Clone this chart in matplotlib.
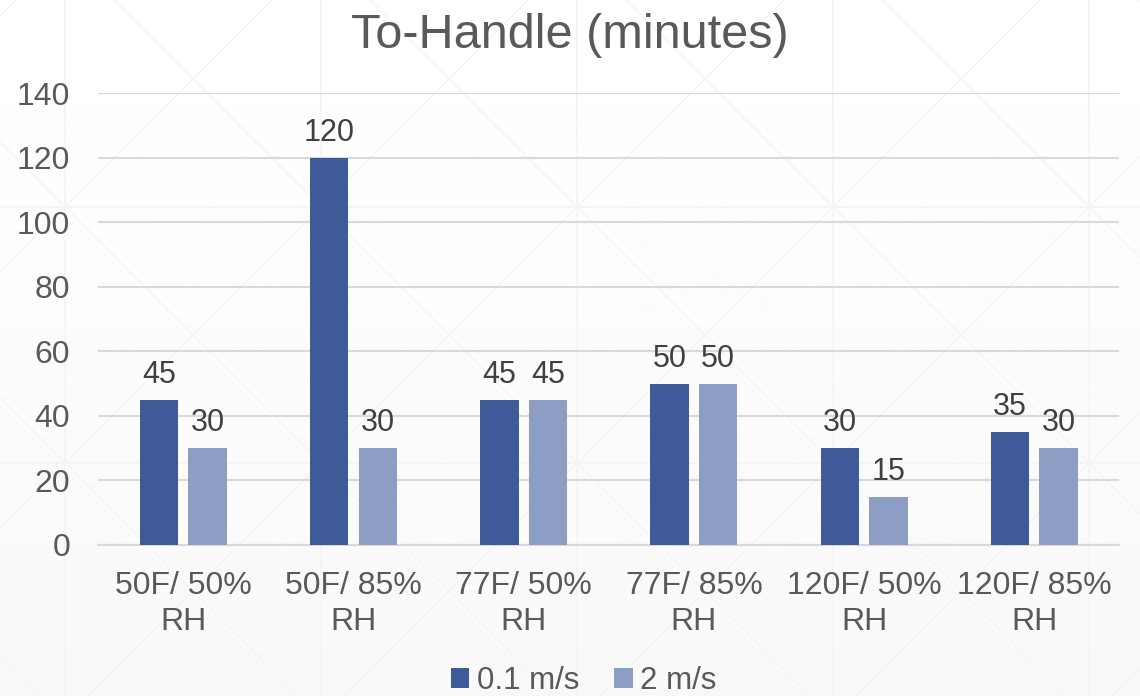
import numpy as np
import matplotlib.pyplot as plt

categories = ['50F/ 50%\nRH', '50F/ 85%\nRH', '77F/ 50%\nRH', '77F/ 85%\nRH', '120F/ 50%\nRH', '120F/ 85%\nRH']
slow_air = [45, 120, 45, 50, 30, 35]
fast_air = [30, 30, 45, 50, 15, 30]
series_names = ['0.1 m/s', '2 m/s']

dark_blue = '#3F5A98'
light_blue = '#8E9DC4'
text_grey = '#595959'
grid_grey = '#D9D9D9'
pattern_grey = '#F4F4F4'

plt.rcParams['font.family'] = ['Liberation Sans', 'DejaVu Sans']

fig = plt.figure(figsize=(11.4, 6.96), dpi=100)

# faint slide backdrop: square tiles with crossing diagonals, slight grey towards the bottom
bg = fig.add_axes([0, 0, 1, 1], zorder=-10)
bg.set_xlim(0, 1140)
bg.set_ylim(696, 0)
bg.axis('off')
shade = np.linspace(1.0, 0.975, 256).reshape(-1, 1)
bg.imshow(shade, cmap='gray', vmin=0, vmax=1, extent=[0, 1140, 696, 0], aspect='auto')
step = 256
for gx in np.arange(65 - 2 * step, 1140 + step, step):
    bg.axvline(gx, color=pattern_grey, lw=1.2)
    for gy in np.arange(207 - 2 * step, 696 + step, step):
        bg.plot([gx, gx + step], [gy, gy + step], color=pattern_grey, lw=1)
        bg.plot([gx, gx + step], [gy + step, gy], color=pattern_grey, lw=1)
for gy in np.arange(207 - step, 696 + step, step):
    bg.axhline(gy, color=pattern_grey, lw=1.2)

ax = fig.add_axes([0.086, 0.217, 0.896, 0.649])
ax.patch.set_alpha(0)

x = np.arange(len(categories))
width = 0.225
gap = 0.06
offset = (width + gap) / 2
b1 = ax.bar(x - offset, slow_air, width, color=dark_blue, label=series_names[0], zorder=3)
b2 = ax.bar(x + offset, fast_air, width, color=light_blue, label=series_names[1], zorder=3)

for bars in (b1, b2):
    ax.bar_label(bars, padding=7, fontsize=22, color='#404040')

ax.set_ylim(0, 140)
ax.set_yticks(range(0, 141, 20))
ax.set_xlim(-0.5, len(categories) - 0.5)
ax.set_xticks(x)
ax.set_xticklabels(categories, linespacing=1.25)
ax.tick_params(axis='both', length=0, labelsize=23, labelcolor=text_grey)
ax.tick_params(axis='x', pad=19)
ax.tick_params(axis='y', pad=20)
ax.grid(axis='y', color=grid_grey, lw=1.5, zorder=0)
for side in ['top', 'right', 'left']:
    ax.spines[side].set_visible(False)
ax.spines['bottom'].set_color(grid_grey)
ax.spines['bottom'].set_linewidth(1.5)

fig.suptitle('To-Handle (minutes)', fontsize=35, color=text_grey, y=0.982)

fig.legend(handles=[b1, b2], loc='lower center', bbox_to_anchor=(0.512, -0.04), ncol=2,
           frameon=False, fontsize=22.5, labelcolor=text_grey, handlelength=0.6,
           handleheight=0.6, handletextpad=0.25, columnspacing=1.1)

fig.savefig('out.png', dpi=100)
